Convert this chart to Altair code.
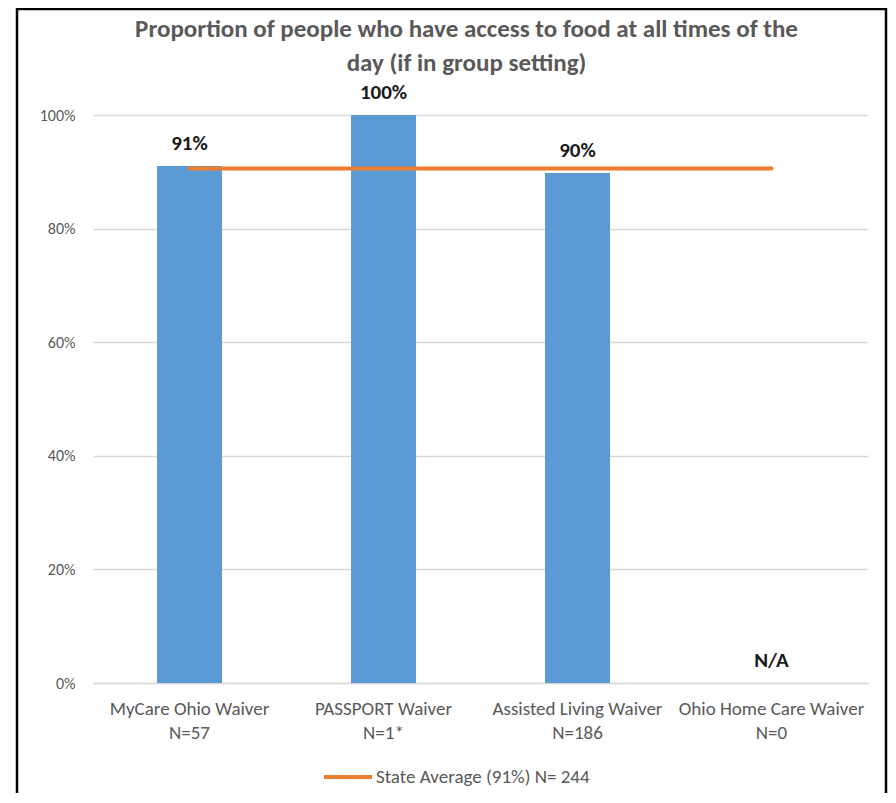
import altair as alt
import pandas as pd

categories = ["MyCare Ohio Waiver|N=57", "PASSPORT Waiver|N=1*",
              "Assisted Living Waiver|N=186", "Ohio Home Care Waiver|N=0"]
values = [0.91, 1.00, 0.898, None]
labels = ["91%", "100%", "90%", "N/A"]
state_avg = 0.906
legend_name = "State Average (91%) N= 244"

W, H = 775, 568
FONT = "Carlito, 'DejaVu Sans Condensed', 'Liberation Sans', sans-serif"

bars_df = pd.DataFrame({"cat": categories, "value": values,
                        "label": labels,
                        "pos": [v if v is not None else 0 for v in values]})
line_df = pd.DataFrame({"cat": [categories[0], categories[-1]],
                        "value": [state_avg, state_avg],
                        "series": [legend_name, legend_name]})

xenc = alt.X("cat:N", sort=categories, title=None,
             scale=alt.Scale(paddingInner=0.665, paddingOuter=0.33),
             axis=alt.Axis(labelExpr="split(datum.label, '|')", labelAngle=0,
                           labelFont=FONT, labelFontSize=19, labelColor="#595959",
                           labelLineHeight=24, labelPadding=16, ticks=False,
                           labelLimit=300,
                           domainColor="#D9D9D9", domainWidth=1.5))
yscale = alt.Scale(domain=[0, 1])

bars = alt.Chart(bars_df).mark_bar(color="#5B9BD5").encode(
    x=xenc,
    y=alt.Y("value:Q", scale=yscale, title=None,
            axis=alt.Axis(values=[0, 0.2, 0.4, 0.6, 0.8, 1.0], format=".0%",
                          labelFont=FONT, labelFontSize=16, labelColor="#595959",
                          labelPadding=18, ticks=False, domain=False,
                          gridColor="#D9D9D9", gridWidth=1.5)),
)

line = alt.Chart(line_df).mark_line(strokeWidth=4, strokeCap="round").encode(
    x=alt.X("cat:N", sort=categories),
    y=alt.Y("value:Q", scale=yscale),
    color=alt.Color("series:N", scale=alt.Scale(range=["#ED7D31"]),
                    legend=alt.Legend(title=None, orient="none", legendX=229, legendY=636,
                                      symbolType="stroke", symbolSize=2304,
                                      symbolStrokeWidth=4, labelFont=FONT,
                                      labelFontSize=19, labelColor="#595959",
                                      labelOffset=2, labelLimit=500)),
)

halo = alt.Chart(bars_df).mark_text(
    font=FONT, fontSize=21, fontWeight="bold", baseline="middle", dy=-22,
    stroke="white", strokeWidth=8, color="white").encode(
    x=alt.X("cat:N", sort=categories), y=alt.Y("pos:Q", scale=yscale), text="label:N")

text = alt.Chart(bars_df).mark_text(
    font=FONT, fontSize=21, fontWeight="bold", baseline="middle", dy=-22,
    color="#1a1a1a").encode(
    x=alt.X("cat:N", sort=categories), y=alt.Y("pos:Q", scale=yscale), text="label:N")

border = alt.Chart(pd.DataFrame({"a": [0]})).mark_rect(
    fill=None, stroke="black", strokeWidth=2.5, clip=False).encode(
    x=alt.value(-76), x2=alt.value(793), y=alt.value(-106), y2=alt.value(H + 200))

chart = alt.layer(bars, line, halo, text, border).properties(
    width=W, height=H,
    title=alt.TitleParams(
        ["Proportion of people who have access to food at all times of the",
         "day (if in group setting)"],
        font=FONT, fontSize=25, fontWeight="bold", color="#595959",
        lineHeight=34, offset=-68, dx=-14, anchor="middle", frame="group"),
    autosize=alt.AutoSizeParams(type="none"),
    padding={"left": 85, "top": 107, "right": 20, "bottom": 110},
).configure_view(stroke=None)

chart.save("out.html", embed_options={"renderer": "svg", "actions": False})
